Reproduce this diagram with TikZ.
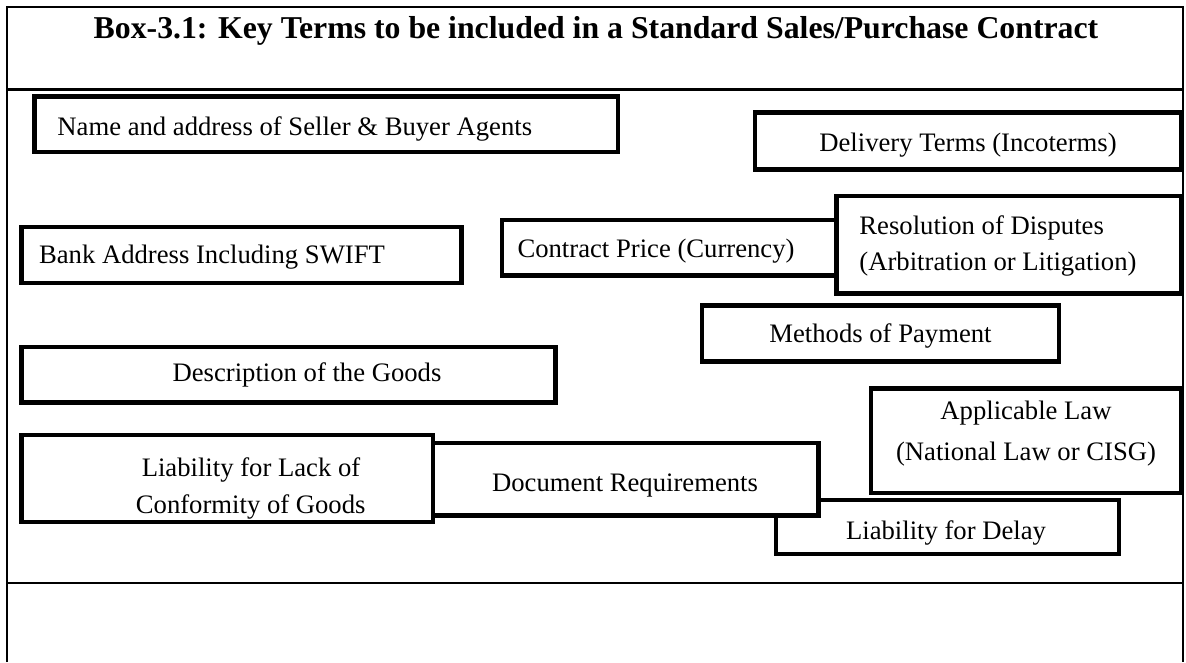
\documentclass[tikz,border=0pt]{standalone}
\usepackage{fontspec}
\setmainfont{Liberation Serif}
\usetikzlibrary{fit}

\begin{document}
\begin{tikzpicture}[x=0.45pt, y=-0.45pt]
\tikzset{ termbox/.style={draw=black, line width=2pt, fill=white, inner sep=0pt},
          termtext/.style={font=\fontsize{12}{14}\selectfont, inner sep=0pt, anchor=base},
          tabline/.style={line width=1pt}, }

\useasboundingbox (0,0) rectangle (1186,662);

% table frame
\draw [tabline] (7,662) -- (7,6.7) -- (1183,6.7) -- (1183,662);
\draw [tabline] (7,89.5) -- (1183,89.5);
\draw [tabline] (7,583)  -- (1183,583);

\node [font=\fontsize{14.3}{17}\selectfont\bfseries, inner sep=0pt, anchor=base] (title) at (596,38)
  {Box-3.1: Key Terms to be included in a Standard Sales/Purchase Contract};

% term boxes, back to front
\node [termbox, fit={(34.5,96.3) (618,152)}] (agents) {};
\node [termtext, anchor=base west] (agents-t) at (57,135.7) {Name and address of Seller \& Buyer Agents};

\node [termbox, fit={(755,112.5) (1181,169.5)}] (delivery) {};
\node [termtext] (delivery-t) at (968,151) {Delivery Terms (Incoterms)};

\node [termbox, fit={(21.3,227) (461.5,283)}] (bank) {};
\node [termtext] (bank-t) at (212,263) {Bank Address Including SWIFT};

\node [termbox, fit={(502,220) (870,275.5)}] (price) {};
\node [termtext] (price-t) at (656,257) {Contract Price (Currency)};

\node [termbox, fit={(836.5,195.8) (1181,293.3)}] (disputes) {};
\node [termtext, anchor=base west] (disputes-1) at (859,234) {Resolution of Disputes};
\node [termtext, anchor=base west] (disputes-2) at (859,270) {(Arbitration or Litigation)};

\node [termbox, fit={(702,305.7) (1059,361.3)}] (payment) {};
\node [termtext] (payment-t) at (880.5,342.7) {Methods of Payment};

\node [termbox, fit={(21.3,347) (555.5,402.5)}] (goods) {};
\node [termtext] (goods-t) at (307,381) {Description of the Goods};

\node [termbox, fit={(871,388.7) (1181,493)}] (law) {};
\node [termtext] (law-1) at (1026,419) {Applicable Law};
\node [termtext] (law-2) at (1026,460) {(National Law or CISG)};

\node [termbox, fit={(776,500) (1119,554)}] (delay) {};
\node [termtext] (delay-t) at (946,539) {Liability for Delay};

\node [termbox, fit={(400,443) (818.7,515.5)}] (documents) {};
\node [termtext] (documents-t) at (625,491) {Document Requirements};

\node [termbox, fit={(21.3,435) (433,522)}] (conformity) {};
\node [termtext] (conformity-1) at (251,476) {Liability for Lack of};
\node [termtext] (conformity-2) at (250.7,513) {Conformity of Goods};

\end{tikzpicture}
\end{document}
